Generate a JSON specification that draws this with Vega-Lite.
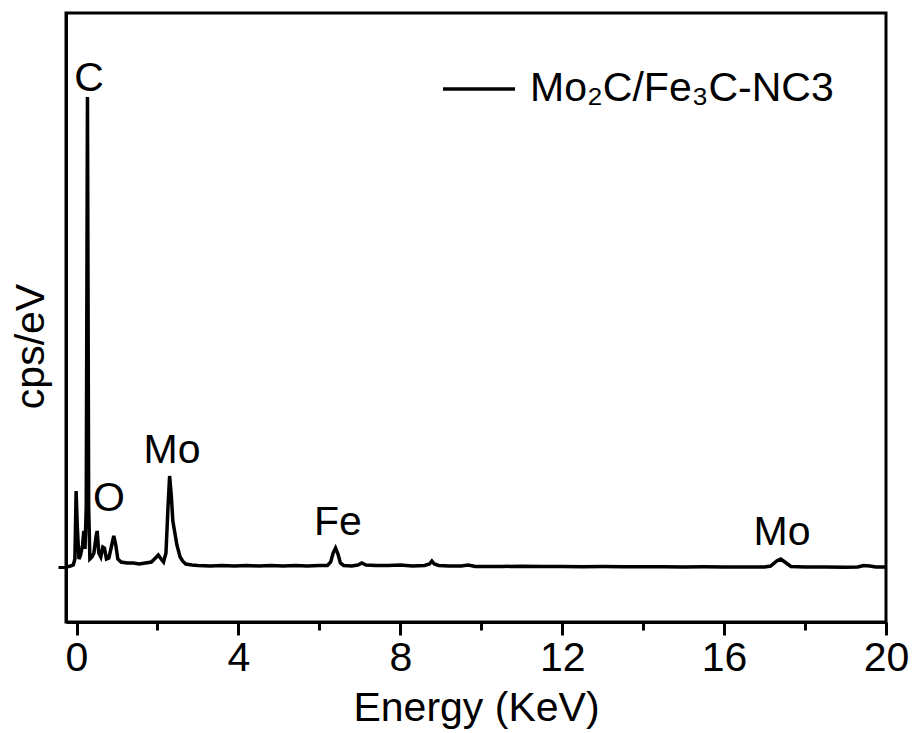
{
  "$schema": "https://vega.github.io/schema/vega-lite/v6.json",
  "width": 820,
  "height": 609,
  "autosize": {"type": "none"},
  "padding": {"left": 66, "top": 13, "right": 28, "bottom": 111},
  "background": "white",
  "config": {
    "font": "Liberation Sans",
    "view": {"stroke": "black", "strokeWidth": 3},
    "axis": {"domainColor": "black", "domainWidth": 3, "tickColor": "black", "tickWidth": 3, "grid": false, "labelColor": "black", "titleColor": "black", "labelFont": "Liberation Sans", "titleFont": "Liberation Sans", "titleFontWeight": "normal"}
  },
  "datasets": {
    "spectrum": [
      {"energy": -0.26, "cps": 0}, {"energy": -0.15, "cps": 1}, {"energy": -0.08, "cps": 2},
      {"energy": -0.04, "cps": 8}, {"energy": -0.01, "cps": 76}, {"energy": 0.02, "cps": 40},
      {"energy": 0.06, "cps": 8}, {"energy": 0.10, "cps": 12}, {"energy": 0.15, "cps": 22},
      {"energy": 0.18, "cps": 36}, {"energy": 0.21, "cps": 18}, {"energy": 0.24, "cps": 60},
      {"energy": 0.27, "cps": 470}, {"energy": 0.30, "cps": 60}, {"energy": 0.33, "cps": 8},
      {"energy": 0.38, "cps": 10}, {"energy": 0.43, "cps": 14}, {"energy": 0.48, "cps": 30},
      {"energy": 0.51, "cps": 36}, {"energy": 0.55, "cps": 14}, {"energy": 0.60, "cps": 10},
      {"energy": 0.65, "cps": 20}, {"energy": 0.69, "cps": 19}, {"energy": 0.74, "cps": 8},
      {"energy": 0.80, "cps": 9}, {"energy": 0.86, "cps": 20}, {"energy": 0.92, "cps": 31},
      {"energy": 0.97, "cps": 22}, {"energy": 1.02, "cps": 8}, {"energy": 1.10, "cps": 5},
      {"energy": 1.25, "cps": 4}, {"energy": 1.40, "cps": 4}, {"energy": 1.55, "cps": 3},
      {"energy": 1.70, "cps": 4}, {"energy": 1.85, "cps": 5}, {"energy": 1.95, "cps": 9},
      {"energy": 2.02, "cps": 12}, {"energy": 2.09, "cps": 8}, {"energy": 2.15, "cps": 5},
      {"energy": 2.21, "cps": 14}, {"energy": 2.26, "cps": 60}, {"energy": 2.30, "cps": 91},
      {"energy": 2.34, "cps": 72}, {"energy": 2.38, "cps": 46}, {"energy": 2.43, "cps": 34},
      {"energy": 2.48, "cps": 22}, {"energy": 2.56, "cps": 10}, {"energy": 2.62, "cps": 6},
      {"energy": 2.70, "cps": 3}, {"energy": 2.85, "cps": 2}, {"energy": 3.0, "cps": 1.5},
      {"energy": 3.3, "cps": 1}, {"energy": 3.6, "cps": 1.5}, {"energy": 3.9, "cps": 1},
      {"energy": 4.2, "cps": 1.5}, {"energy": 4.5, "cps": 1}, {"energy": 4.8, "cps": 1.5},
      {"energy": 5.1, "cps": 1}, {"energy": 5.4, "cps": 1.5}, {"energy": 5.7, "cps": 1},
      {"energy": 6.0, "cps": 1.5}, {"energy": 6.2, "cps": 1.5}, {"energy": 6.28, "cps": 5},
      {"energy": 6.34, "cps": 14}, {"energy": 6.40, "cps": 19}, {"energy": 6.46, "cps": 13},
      {"energy": 6.52, "cps": 4}, {"energy": 6.60, "cps": 1.5}, {"energy": 6.80, "cps": 1},
      {"energy": 6.95, "cps": 2}, {"energy": 7.05, "cps": 4}, {"energy": 7.15, "cps": 2},
      {"energy": 7.4, "cps": 1.5}, {"energy": 7.7, "cps": 1.5}, {"energy": 8.0, "cps": 2},
      {"energy": 8.3, "cps": 1}, {"energy": 8.6, "cps": 1.5}, {"energy": 8.72, "cps": 3},
      {"energy": 8.78, "cps": 6}, {"energy": 8.84, "cps": 3}, {"energy": 8.95, "cps": 1.5},
      {"energy": 9.2, "cps": 1}, {"energy": 9.5, "cps": 1}, {"energy": 9.68, "cps": 2},
      {"energy": 9.85, "cps": 0.5}, {"energy": 10.5, "cps": 0.5}, {"energy": 11.0, "cps": 0.8},
      {"energy": 11.5, "cps": 0.5}, {"energy": 12.0, "cps": 0.5}, {"energy": 12.5, "cps": 0.3},
      {"energy": 13.0, "cps": 0.5}, {"energy": 13.5, "cps": 0.3}, {"energy": 14.0, "cps": 0.2},
      {"energy": 14.5, "cps": 0.3}, {"energy": 15.0, "cps": 0}, {"energy": 15.5, "cps": 0.2},
      {"energy": 16.0, "cps": 0}, {"energy": 16.5, "cps": 0}, {"energy": 17.0, "cps": 0},
      {"energy": 17.15, "cps": 1}, {"energy": 17.30, "cps": 6}, {"energy": 17.40, "cps": 8},
      {"energy": 17.50, "cps": 5}, {"energy": 17.65, "cps": 0.5}, {"energy": 18.0, "cps": 0},
      {"energy": 18.5, "cps": 0}, {"energy": 19.0, "cps": -0.3}, {"energy": 19.3, "cps": 0},
      {"energy": 19.45, "cps": 1.5}, {"energy": 19.6, "cps": 1}, {"energy": 19.75, "cps": 0},
      {"energy": 20.0, "cps": 0}
    ],
    "labels": [
      {"energy": 0.31, "cps": 476, "text": "C"},
      {"energy": 0.80, "cps": 56, "text": "O"},
      {"energy": 2.36, "cps": 104, "text": "Mo"},
      {"energy": 6.46, "cps": 32, "text": "Fe"},
      {"energy": 17.43, "cps": 22, "text": "Mo"}
    ]
  },
  "layer": [
    {
      "data": {"name": "spectrum"},
      "mark": {"type": "line", "strokeWidth": 3.5, "clip": true},
      "encoding": {
        "x": {
          "field": "energy", "type": "quantitative",
          "scale": {"domain": [-0.26, 20], "nice": false, "zero": false},
          "axis": {
            "title": "Energy (KeV)", "titleFontSize": 41, "titlePadding": 10,
            "values": [0, 2, 4, 6, 8, 10, 12, 14, 16, 18, 20],
            "labelExpr": "datum.value % 4 === 0 ? datum.label : ''",
            "tickSize": {"condition": {"test": "datum.value % 4 === 0", "value": 13}, "value": 8},
            "labelFontSize": 41, "labelPadding": 3, "labelFlush": false, "labelOverlap": false
          }
        },
        "y": {
          "field": "cps", "type": "quantitative",
          "scale": {"domain": [-55, 554], "nice": false, "zero": false},
          "axis": {
            "title": "cps/eV", "titleFontSize": 41, "titlePadding": 4, "titleY": 333,
            "values": [0], "labels": false, "tickSize": 8
          }
        },
        "color": {
          "datum": "Mo₂C/Fe₃C-NC3", "type": "nominal",
          "scale": {"range": ["black"]},
          "legend": {
            "orient": "none", "legendX": 375, "legendY": 38, "title": null,
            "symbolType": "stroke", "symbolSize": 5184, "symbolStrokeWidth": 3.5,
            "labelFontSize": 41, "labelFont": "Liberation Sans", "labelColor": "black",
            "labelLimit": 0, "labelOffset": 13, "padding": 0
          }
        }
      }
    },
    {
      "data": {"name": "labels"},
      "mark": {"type": "text", "fontSize": 41, "font": "Liberation Sans", "align": "center", "baseline": "alphabetic", "color": "black"},
      "encoding": {
        "x": {"field": "energy", "type": "quantitative"},
        "y": {"field": "cps", "type": "quantitative"},
        "text": {"field": "text"}
      }
    }
  ]
}
